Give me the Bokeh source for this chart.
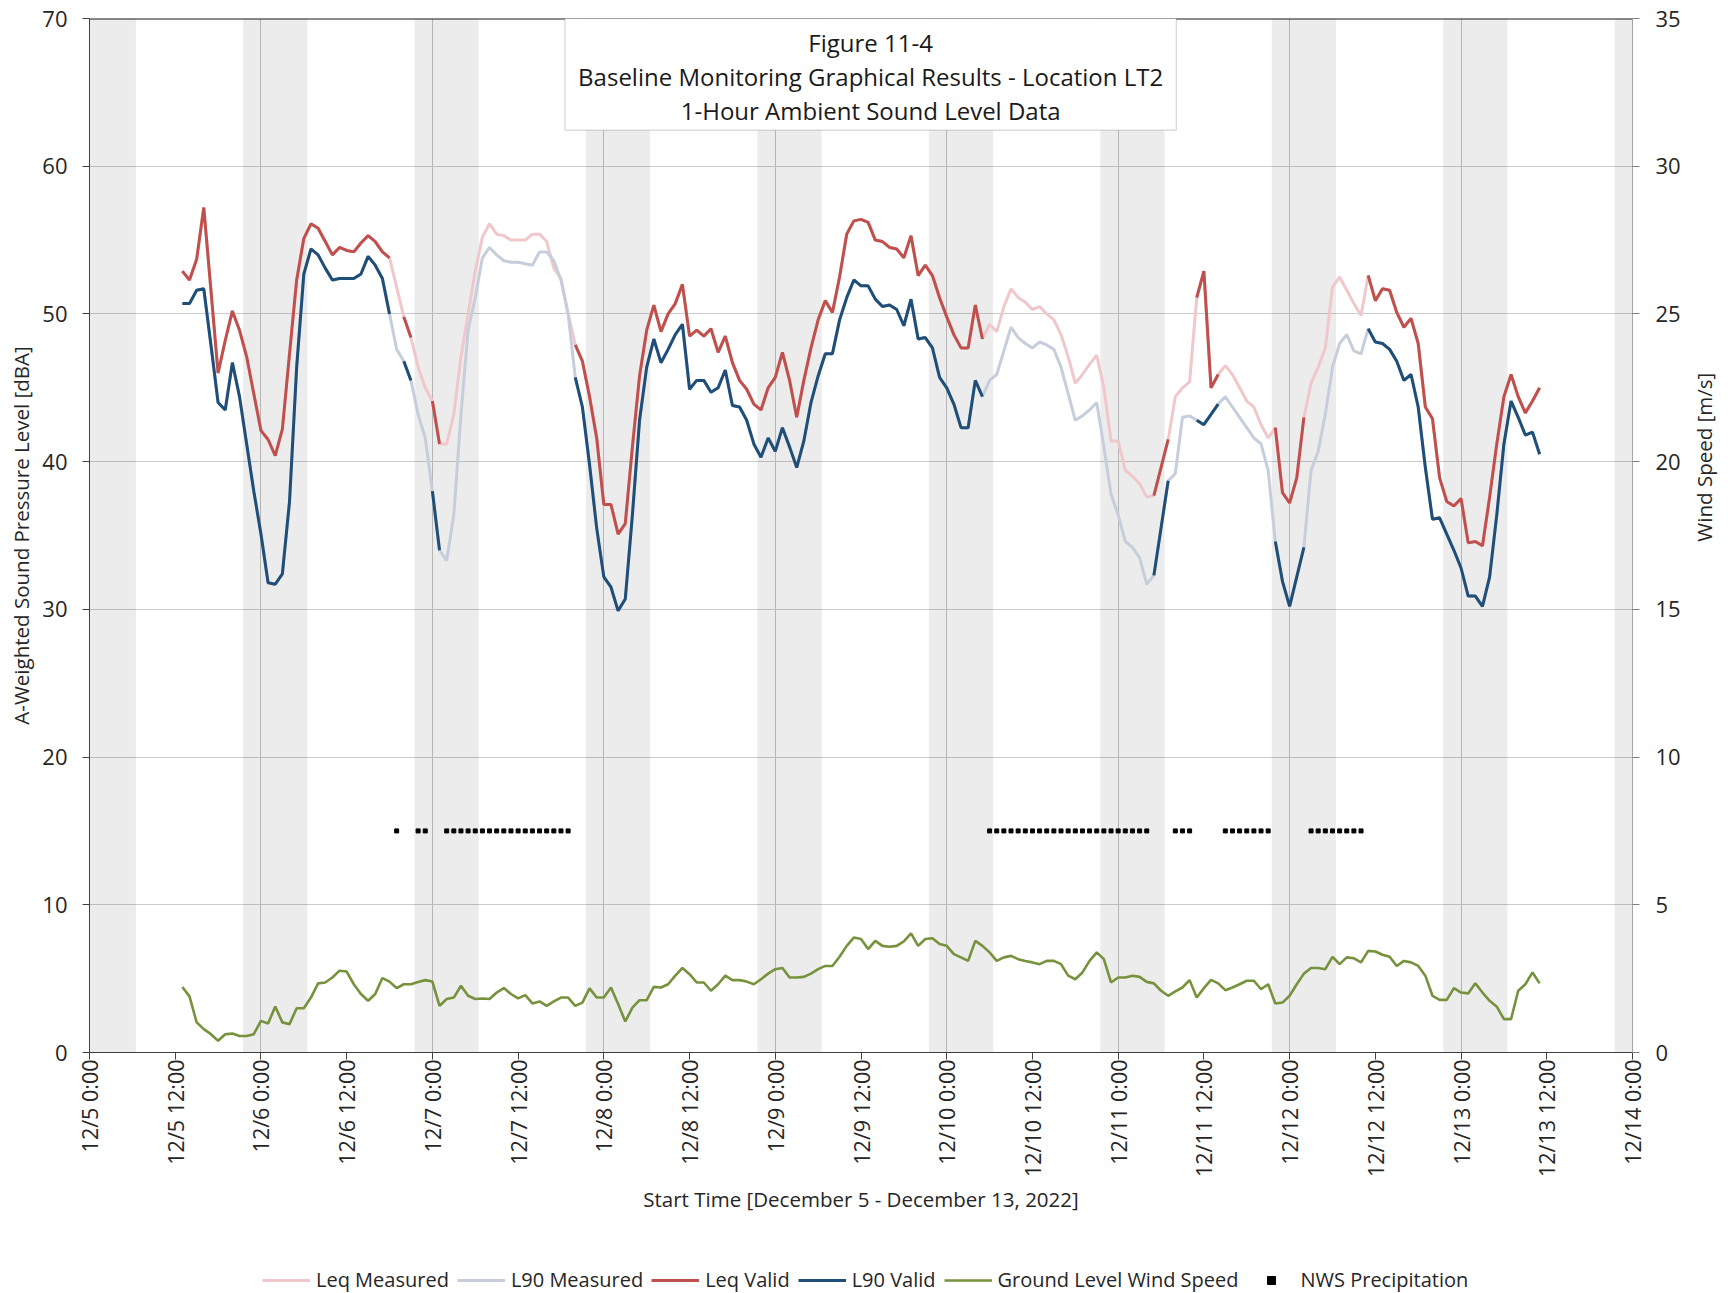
import math
import numpy as np
from bokeh.plotting import figure
from bokeh.layouts import row, column
from bokeh.models import (Range1d, LinearAxis, FixedTicker, Legend, LegendItem,
                          BoxAnnotation, Label, Span)
from bokeh.embed import file_html
from bokeh.resources import INLINE

# ---------------- data (hourly, first value at 12/5 13:00) ----------------
start_hour = 13  # hours after 12/5 0:00

leq_measured = [
    52.9, 52.3, 53.7, 57.2, 51.6, 46.0, 48.2, 50.2, 48.9, 47.1,
    44.6, 42.1, 41.5, 40.4, 42.2, 47.3, 52.3, 55.1, 56.1, 55.8,
    54.9, 54.0, 54.5, 54.3, 54.2, 54.8, 55.3, 54.9, 54.2, 53.8,
    51.8, 49.8, 48.4, 46.4, 45.0, 44.1, 41.2, 41.2, 43.2, 47.1,
    50.0, 52.9, 55.2, 56.1, 55.4, 55.3, 55.0, 55.0, 55.0, 55.4,
    55.4, 54.9, 53.1, 52.4, 50.0, 47.9, 46.8, 44.4, 41.6, 37.1,
    37.1, 35.1, 35.8, 41.0, 45.8, 48.9, 50.6, 48.8, 50.0, 50.7,
    52.0, 48.5, 48.9, 48.5, 49.0, 47.4, 48.5, 46.7, 45.5, 44.9,
    43.9, 43.5, 45.0, 45.7, 47.4, 45.5, 43.0, 45.5, 47.7, 49.6,
    50.9, 50.1, 52.5, 55.4, 56.3, 56.4, 56.2, 55.0, 54.9, 54.5,
    54.4, 53.8, 55.3, 52.6, 53.3, 52.6, 51.1, 49.8, 48.6, 47.7,
    47.7, 50.6, 48.3, 49.3, 48.8, 50.5, 51.7, 51.1, 50.8, 50.3,
    50.5, 50.0, 49.6, 48.6, 47.1, 45.3, 45.9, 46.6, 47.2, 45.0,
    41.4, 41.4, 39.4, 39.0, 38.5, 37.6, 37.7, 39.6, 41.5, 44.4,
    45.0, 45.4, 51.1, 52.9, 45.0, 45.9, 46.5, 45.9, 45.0, 44.1,
    43.7, 42.5, 41.6, 42.3, 37.9, 37.2, 38.9, 43.0, 45.3, 46.4,
    47.7, 51.8, 52.5, 51.6, 50.7, 49.9, 52.6, 50.9, 51.7, 51.6,
    50.1, 49.1, 49.7, 48.0, 43.7, 42.9, 38.9, 37.3, 37.0, 37.5,
    34.5, 34.6, 34.3, 37.6, 41.2, 44.4, 45.9, 44.4, 43.3, 44.1, 45.0,
]

l90_measured = [
    50.7, 50.7, 51.6, 51.7, 47.9, 44.0, 43.5, 46.7, 44.4, 41.2,
    38.0, 35.1, 31.8, 31.7, 32.4, 37.3, 46.4, 52.7, 54.4, 54.0,
    53.1, 52.3, 52.4, 52.4, 52.4, 52.7, 53.9, 53.3, 52.4, 50.0,
    47.6, 46.8, 45.5, 43.2, 41.6, 38.0, 34.0, 33.3, 36.4, 43.2,
    48.9, 51.1, 53.8, 54.5, 54.0, 53.6, 53.5, 53.5, 53.4, 53.3,
    54.2, 54.2, 53.6, 52.3, 50.0, 45.7, 43.7, 39.8, 35.5, 32.2,
    31.5, 29.9, 30.7, 36.4, 42.8, 46.4, 48.3, 46.7, 47.6, 48.6,
    49.3, 44.9, 45.5, 45.5, 44.7, 45.0, 46.2, 43.8, 43.7, 42.8,
    41.2, 40.3, 41.6, 40.7, 42.3, 41.0, 39.6, 41.4, 44.0, 45.8,
    47.3, 47.3, 49.6, 51.1, 52.3, 51.9, 51.9, 51.0, 50.5, 50.6,
    50.3, 49.2, 51.0, 48.3, 48.4, 47.7, 45.7, 45.0, 43.9, 42.3,
    42.3, 45.5, 44.4, 45.5, 45.9, 47.5, 49.1, 48.4, 48.0, 47.7,
    48.1, 47.9, 47.6, 46.4, 44.6, 42.8, 43.1, 43.5, 44.0, 41.0,
    37.8, 36.4, 34.6, 34.2, 33.5, 31.7, 32.3, 35.5, 38.7, 39.2,
    43.0, 43.1, 42.8, 42.5, 43.2, 43.9, 44.4, 43.7, 43.0, 42.3,
    41.6, 41.2, 39.4, 34.6, 31.9, 30.2, 32.2, 34.2, 39.4, 40.7,
    43.2, 46.4, 48.0, 48.6, 47.5, 47.3, 49.0, 48.1, 48.0, 47.6,
    46.8, 45.5, 45.9, 43.7, 39.6, 36.1, 36.2, 35.1, 34.0, 32.8,
    30.9, 30.9, 30.2, 32.2, 36.4, 41.2, 44.1, 43.0, 41.8, 42.0, 40.5,
]

wind_speed = [
    2.22, 1.90, 1.02, 0.79, 0.62, 0.40, 0.62, 0.64, 0.56, 0.56,
    0.62, 1.07, 0.98, 1.56, 1.02, 0.96, 1.50, 1.50, 1.86, 2.34,
    2.37, 2.54, 2.77, 2.74, 2.31, 1.98, 1.75, 1.98, 2.52, 2.40,
    2.18, 2.31, 2.31, 2.39, 2.45, 2.40, 1.58, 1.81, 1.86, 2.26,
    1.92, 1.81, 1.83, 1.81, 2.03, 2.18, 1.98, 1.83, 1.94, 1.66,
    1.73, 1.58, 1.73, 1.86, 1.86, 1.58, 1.69, 2.17, 1.86, 1.86,
    2.20, 1.64, 1.05, 1.52, 1.77, 1.77, 2.22, 2.20, 2.31, 2.60,
    2.86, 2.65, 2.37, 2.37, 2.09, 2.31, 2.60, 2.45, 2.45, 2.40,
    2.31, 2.48, 2.67, 2.82, 2.86, 2.54, 2.54, 2.56, 2.67, 2.82,
    2.93, 2.93, 3.24, 3.61, 3.89, 3.84, 3.50, 3.78, 3.61, 3.58,
    3.61, 3.76, 4.03, 3.61, 3.84, 3.87, 3.67, 3.61, 3.33, 3.22,
    3.10, 3.78, 3.61, 3.39, 3.10, 3.22, 3.27, 3.16, 3.10, 3.05,
    2.99, 3.10, 3.10, 2.99, 2.60, 2.48, 2.71, 3.10, 3.39, 3.16,
    2.37, 2.54, 2.54, 2.60, 2.56, 2.39, 2.34, 2.09, 1.92, 2.07,
    2.20, 2.45, 1.86, 2.18, 2.46, 2.34, 2.11, 2.20, 2.31, 2.43,
    2.43, 2.14, 2.31, 1.66, 1.69, 1.92, 2.31, 2.67, 2.86, 2.86,
    2.82, 3.24, 2.99, 3.22, 3.19, 3.05, 3.44, 3.42, 3.31, 3.24,
    2.93, 3.10, 3.05, 2.93, 2.60, 1.92, 1.78, 1.78, 2.18, 2.03,
    2.00, 2.34, 2.03, 1.75, 1.55, 1.13, 1.13, 2.09, 2.31, 2.71, 2.34,
]

# hours (after 12/5 0:00) with NWS precipitation -> sound data not valid
precip_hours = [43, 46, 47,
                50, 51, 52, 53, 54, 55, 56, 57, 58, 59, 60, 61, 62, 63, 64, 65, 66, 67,
                126, 127, 128, 129, 130, 131, 132, 133, 134, 135, 136, 137, 138, 139,
                140, 141, 142, 143, 144, 145, 146, 147, 148,
                152, 153, 154,
                159, 160, 161, 162, 163, 164, 165,
                171, 172, 173, 174, 175, 176, 177, 178]
precip_level = 15  # dBA row where precipitation markers are shown

tick_labels = ["12/5 0:00", "12/5 12:00", "12/6 0:00", "12/6 12:00", "12/7 0:00",
               "12/7 12:00", "12/8 0:00", "12/8 12:00", "12/9 0:00", "12/9 12:00",
               "12/10 0:00", "12/10 12:00", "12/11 0:00", "12/11 12:00", "12/12 0:00",
               "12/12 12:00", "12/13 0:00", "12/13 12:00", "12/14 0:00"]

night_start = -2.5   # 21:30 of previous day, relative to midnight
night_end = 6.5      # 06:30

title_lines = ["Figure 11-4",
               "Baseline Monitoring Graphical Results - Location LT2",
               "1-Hour Ambient Sound Level Data"]

# ---------------- derived ----------------
hours = np.arange(start_hour, start_hour + len(leq_measured))
invalid = np.isin(hours, precip_hours)
leq_valid = np.where(invalid, np.nan, np.array(leq_measured, dtype=float))
l90_valid = np.where(invalid, np.nan, np.array(l90_measured, dtype=float))

tick_pos = [i * 12 for i in range(len(tick_labels))]
x_end = tick_pos[-1]
midnights = list(range(0, x_end + 1, 24))

FONT = "Open Sans"
TXT = "#262626"
C_LEQ_M, C_L90_M = "#f0c8cb", "#c6cedb"
C_LEQ_V, C_L90_V = "#c0504d", "#1f4e79"
C_WIND = "#76923c"

MAIN_W, MAIN_H, SIDE_W, LEG_H = 1684, 1261, 44, 32

p = figure(width=MAIN_W, height=MAIN_H, x_range=Range1d(0, x_end), y_range=Range1d(0, 70),
           output_backend="svg", toolbar_location=None,
           min_border_left=89, min_border_right=52, min_border_top=18, min_border_bottom=209,
           background_fill_color="white", border_fill_color="white")
p.outline_line_color = None
p.extra_y_ranges = {"wind": Range1d(0, 35)}

# night shading
p.quad(left=[m + night_start for m in midnights], right=[m + night_end for m in midnights],
       bottom=0, top=70, fill_color="black", fill_alpha=0.075, line_color=None)

# grids
p.xgrid.ticker = FixedTicker(ticks=midnights)
p.xgrid.grid_line_color = "#c4c4c4"
p.ygrid.ticker = FixedTicker(ticks=list(range(0, 71, 10)))
p.ygrid.grid_line_color = "#cccccc"

# series
r_leq_m = p.line(hours, leq_measured, line_color=C_LEQ_M, line_width=3)
r_l90_m = p.line(hours, l90_measured, line_color=C_L90_M, line_width=3)
r_leq_v = p.line(hours, leq_valid, line_color=C_LEQ_V, line_width=3)
r_l90_v = p.line(hours, l90_valid, line_color=C_L90_V, line_width=3)
r_wind = p.line(hours, wind_speed, line_color=C_WIND, line_width=2.6, y_range_name="wind")
r_prec = p.scatter(precip_hours, [precip_level] * len(precip_hours), marker="square",
                   size=4, fill_color="black", line_color="black")

# axes
xa = p.xaxis[0]
xa.ticker = FixedTicker(ticks=tick_pos)
xa.major_label_overrides = {t: lab for t, lab in zip(tick_pos, tick_labels)}
xa.major_label_orientation = math.pi / 2
xa.major_label_standoff = 0
xa.axis_label = "Start Time [December 5 - December 13, 2022]"
xa.axis_label_standoff = 5
xa.major_label_text_font_size = "21.5px"

ya = p.yaxis[0]
ya.ticker = FixedTicker(ticks=list(range(0, 71, 10)))
ya.major_label_standoff = 15
ya.axis_label = "A-Weighted Sound Pressure Level [dBA]"
ya.axis_label_standoff = 4
ya.major_label_text_font_size = "22px"

ra = LinearAxis(y_range_name="wind", ticker=FixedTicker(ticks=list(range(0, 36, 5))))
ra.major_label_standoff = 16
ra.major_label_text_font_size = "22px"
p.add_layout(ra, "right")

for ax in (xa, ya, ra):
    ax.minor_tick_line_color = None
    ax.major_tick_out = 7
    ax.major_tick_in = 0
    ax.major_label_text_font = FONT
    ax.major_label_text_color = TXT
    ax.axis_label_text_font = FONT
    ax.axis_label_text_font_style = "normal"
    ax.axis_label_text_font_size = "20.5px"
    ax.axis_label_text_color = TXT
    ax.axis_line_color = "#404040"
    ax.major_tick_line_color = "#404040"
ra.axis_line_color = "#a6a6a6"
ra.major_tick_line_color = "#7f7f7f"

# top border line
p.add_layout(Span(location=70, dimension="width", line_color="#1a1a1a", line_width=2))

# title box (inside plot, top centre)
box_left, box_right, box_bottom = 66.56, 152.14, 62.44
p.add_layout(BoxAnnotation(left=box_left, right=box_right, bottom=box_bottom, top=70,
                           fill_color="white", fill_alpha=1.0,
                           line_color="#6f6f6f", line_width=1.2))
box_cx = (box_left + box_right) / 2
for txt, yy in zip(title_lines, [68.36, 66.06, 63.80]):
    p.add_layout(Label(x=box_cx, y=yy, text=txt, text_align="center", text_baseline="middle",
                       text_font=FONT, text_font_size="24px", text_color="#1a1a1a"))

# right-hand axis title (reads bottom-to-top), in a narrow side panel
side = figure(width=SIDE_W, height=MAIN_H, x_range=Range1d(0, SIDE_W), y_range=Range1d(0, MAIN_H),
              output_backend="svg", toolbar_location=None, x_axis_type=None, y_axis_type=None,
              min_border=0, background_fill_color="white", border_fill_color="white")
side.outline_line_color = None
side.add_layout(Label(x=19, y=MAIN_H - 535, text="Wind Speed [m/s]", angle=math.pi / 2,
                      text_align="center", text_baseline="middle", text_font=FONT,
                      text_font_size="20.5px", text_color=TXT))

# legend strip (legend swatches use the same styles as the plotted series)
leg = figure(width=MAIN_W + SIDE_W, height=LEG_H, x_range=Range1d(0, 1), y_range=Range1d(0, 1),
             output_backend="svg", toolbar_location=None, x_axis_type=None, y_axis_type=None,
             min_border=0, background_fill_color="white", border_fill_color="white")
leg.outline_line_color = None
nan1 = [float("nan")]
g1 = leg.line(nan1, nan1, line_color=C_LEQ_M, line_width=3)
g2 = leg.line(nan1, nan1, line_color=C_L90_M, line_width=3)
g3 = leg.line(nan1, nan1, line_color=C_LEQ_V, line_width=3)
g4 = leg.line(nan1, nan1, line_color=C_L90_V, line_width=3)
g5 = leg.line(nan1, nan1, line_color=C_WIND, line_width=2.6)
g6 = leg.scatter(nan1, nan1, marker="square", size=4, fill_color="black", line_color="black")
legend = Legend(items=[
    LegendItem(label="Leq Measured", renderers=[g1]),
    LegendItem(label="L90 Measured", renderers=[g2]),
    LegendItem(label="Leq Valid", renderers=[g3]),
    LegendItem(label="L90 Valid", renderers=[g4]),
    LegendItem(label="Ground Level Wind Speed", renderers=[g5]),
    LegendItem(label="NWS Precipitation", renderers=[g6]),
], orientation="horizontal", location=(262, 0), glyph_width=48, glyph_height=20,
    label_standoff=6, spacing=8, padding=2, margin=0,
    border_line_color=None, background_fill_alpha=0.0,
    label_text_font=FONT, label_text_font_size="20px", label_text_color=TXT)
leg.add_layout(legend)

layout = column(row(p, side, spacing=0), leg, spacing=0)

open("out.html", "w").write(file_html(layout, INLINE))
